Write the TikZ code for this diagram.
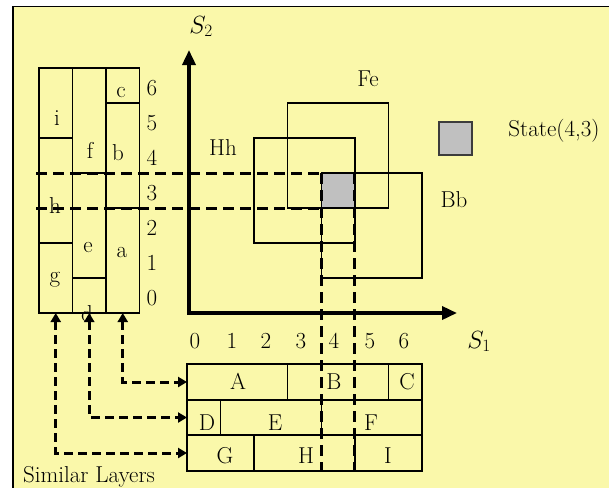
\documentclass[tikz,border=0pt]{standalone}
\usepackage{fontspec}
\usetikzlibrary{arrows.meta}
\definecolor{bgyel}{RGB}{250,248,170}
\definecolor{stgray}{RGB}{192,192,192}
\definecolor{stedge}{RGB}{60,60,60}
\begin{document}
\begin{tikzpicture}[x=1pt,y=-1pt,
  every node/.style={inner sep=0pt, outer sep=0pt},
  txt/.style={font=\fontsize{23}{27}\selectfont, anchor=base},
  cellbox/.style={draw, line width=1.4pt},
  dashline/.style={line width=3pt, dash pattern=on 11pt off 6pt},
  axisline/.style={line width=3.5pt, line join=miter, {Triangle[length=15pt,width=13pt]}-{Triangle[length=15pt,width=13pt]}},
  simarrow/.style={line width=3pt, dash pattern=on 9pt off 5pt, {Triangle[length=9pt,width=10pt]}-{Triangle[length=9pt,width=10pt]}},
]
\useasboundingbox (0,0) rectangle (609,488);
% background
\fill[bgyel] (13,6.5) rectangle (609,488);
\draw[line width=1.5pt] (609,6.5) -- (13,6.5) -- (13,488);

% left table (similar layers)
\node[cellbox,minimum width=33.5pt,minimum height=70pt]  (ci) at (55.75,103) {};
\node[cellbox,minimum width=33.5pt,minimum height=105pt] (ch) at (55.75,190.5) {};
\node[cellbox,minimum width=33.5pt,minimum height=70pt]  (cg) at (55.75,278) {};
\node[cellbox,minimum width=33.5pt,minimum height=105pt] (cf) at (89.25,120.5) {};
\node[cellbox,minimum width=33.5pt,minimum height=105pt] (ce) at (89.25,225.5) {};
\node[cellbox,minimum width=33.5pt,minimum height=35pt]  (cd) at (89.25,295.5) {};
\node[cellbox,minimum width=33.5pt,minimum height=35pt]  (cc) at (122.75,85.5) {};
\node[cellbox,minimum width=33.5pt,minimum height=105pt] (cb) at (122.75,155.5) {};
\node[cellbox,minimum width=33.5pt,minimum height=105pt] (ca) at (122.75,260.5) {};

\node[txt] (li) at (57,125) {i};
\node[txt] (lh) at (55,213) {h};
\node[txt] (lg) at (55,282) {g};
\node[txt] (lf) at (90,158) {f};
\node[txt] (le) at (88,252) {e};
\node[txt] (lc) at (121,97) {c};
\node[txt] (lb) at (118,160) {b};
\node[txt] (la) at (122,257) {a};
\node[txt] (ld) at (87,321) {d};

% left scale
\foreach \k in {0,...,6}{
  \node[txt] (ly\k) at (152,{95+35*(6-\k)}) {\k};
}

% bottom table
\node[cellbox,minimum width=100.7pt,minimum height=36pt] (tA) at (237.35,382) {};
\node[cellbox,minimum width=100.7pt,minimum height=36pt] (tB) at (338.05,382) {};
\node[cellbox,minimum width=33.6pt,minimum height=36pt]  (tC) at (405.2,382) {};
\node[cellbox,minimum width=33.6pt,minimum height=35pt]  (tD) at (203.8,417.5) {};
\node[cellbox,minimum width=100.7pt,minimum height=35pt] (tE) at (270.95,417.5) {};
\node[cellbox,minimum width=100.7pt,minimum height=35pt] (tF) at (371.65,417.5) {};
\node[cellbox,minimum width=67.1pt,minimum height=36pt]  (tG) at (220.55,453) {};
\node[cellbox,minimum width=100.8pt,minimum height=36pt] (tH) at (304.5,453) {};
\node[cellbox,minimum width=67.1pt,minimum height=36pt]  (tI) at (388.45,453) {};

\node[txt] (lA) at (238,389) {A};
\node[txt] (lB) at (334,389) {B};
\node[txt] (lC) at (407,389) {C};
\node[txt] (lD) at (207,430) {D};
\node[txt] (lE) at (275,430) {E};
\node[txt] (lF) at (371,430) {F};
\node[txt] (lG) at (225,463) {G};
\node[txt] (lH) at (306,463) {H};
\node[txt] (lI) at (388,463) {I};

% x-axis numbers
\foreach \k/\xx in {0/195,1/232,2/266,3/301,4/334,5/370,6/404}{
  \node[txt] (lx\k) at (\xx,348) {\k};
}

% plot rectangles
\node[cellbox,minimum width=100.7pt,minimum height=105pt] (rFe) at (338.05,155.5) {};
\node[cellbox,minimum width=100.8pt,minimum height=105pt] (rHh) at (304.5,190.5) {};
\node[cellbox,minimum width=100.7pt,minimum height=105pt] (rBb) at (371.65,225.5) {};
\node[cellbox,fill=stgray,minimum width=33.6pt,minimum height=35pt] (state) at (338.1,190.5) {};

\node[txt] (lFe) at (368,86) {Fe};
\node[txt] (lHh) at (223,155) {Hh};
\node[txt] (lBb) at (454,207) {Bb};

% legend
\node[draw=stedge, fill=stgray, line width=1.8pt, minimum width=33pt, minimum height=33pt] (stateleg) at (455.5,138.5) {};
\node[txt] (lstate) at (554,136) {State(4,3)};

% dashed projection lines
\coordinate (hl1) at (36,173);
\coordinate (hl2) at (36,208);
\draw[dashline] (hl1) -- (state.north west);
\draw[dashline] (hl2) -- (state.south west);
\draw[dashline] (state.north west) -- (state.north west |- tH.south);
\draw[dashline] (state.north east) -- (state.north east |- tH.south);

% axes
\coordinate (O) at (189,313);
\coordinate (ytip) at (189,50);
\coordinate (xtip) at (457,313);
\draw[axisline] (ytip) -- (O) -- (xtip);
\node[txt] (lS2) at (201,33) {$S_2$};
\node[txt] (lS1) at (479,348) {$S_1$};

% similar-layer arrows
\draw[simarrow] (cg.south) |- (tG.west);
\draw[simarrow] (cd.south) |- (tD.west);
\draw[simarrow] (ca.south) |- (tA.west);

\node[txt, anchor=base west] (lsim) at (23,482.5) {Similar Layers};
\end{tikzpicture}
\end{document}
